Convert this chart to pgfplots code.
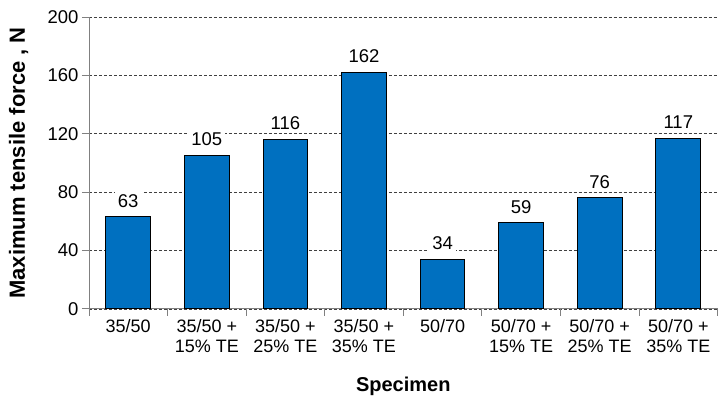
\documentclass[border=0pt]{standalone}
\usepackage{pgfplots}
\pgfplotsset{compat=1.18}
\usepackage{fontspec}
\setmainfont{Liberation Sans}
\definecolor{barblue}{HTML}{0070C0}
\definecolor{axisgray}{HTML}{808080}

\begin{document}
\begin{tikzpicture}
\begin{axis}[
  scale only axis,
  width=629pt, height=292pt,
  xmin=-0.5, xmax=7.5,
  ymin=0, ymax=200,
  ytick={0,40,...,200},
  xtick={0,...,7},
  xticklabels={35/50,
    {35/50 +\\15\% TE}, {35/50 +\\25\% TE}, {35/50 +\\35\% TE},
    50/70,
    {50/70 +\\15\% TE}, {50/70 +\\25\% TE}, {50/70 +\\35\% TE}},
  major x tick style={draw=none},
  minor xtick={-0.5,0.5,...,7.5},
  tick align=outside,
  major tick length=7pt, minor tick length=7pt,
  tick style={draw=axisgray, line width=0.8pt},
  axis x line*=bottom, axis y line*=left,
  axis line style={draw=axisgray, line width=0.8pt, -},
  ymajorgrids,
  grid style={draw=black!75, dash pattern=on 3pt off 2pt, line width=0.6pt},
  /pgf/number format/assume math mode=true,
  yticklabel style={font=\fontsize{18.5}{20}\selectfont},
  xticklabel style={font=\fontsize{18}{20}\selectfont, align=center},
  ylabel={Maximum tensile force , N},
  ylabel style={font=\bfseries\fontsize{22}{24}\selectfont,
    at={(axis description cs:0,0.5)}, anchor=base, yshift=64pt},
  xlabel={Specimen},
  xlabel style={font=\bfseries\fontsize{20}{24}\selectfont,
    at={(axis description cs:0.5,0)}, anchor=base, yshift=-83pt},
  ybar, bar width=0.57,
  nodes near coords,
  every node near coord/.append style={font=\fontsize{18.5}{20}\selectfont,
    fill=white, inner sep=3pt, yshift=6pt},
]
\addplot[fill=barblue, draw=black, line width=1pt]
  coordinates {(0,63) (1,105) (2,116) (3,162) (4,34) (5,59) (6,76) (7,117)};
\end{axis}
\path[use as bounding box] (-89pt,-90pt) rectangle (629pt,309pt);
\end{tikzpicture}
\end{document}
